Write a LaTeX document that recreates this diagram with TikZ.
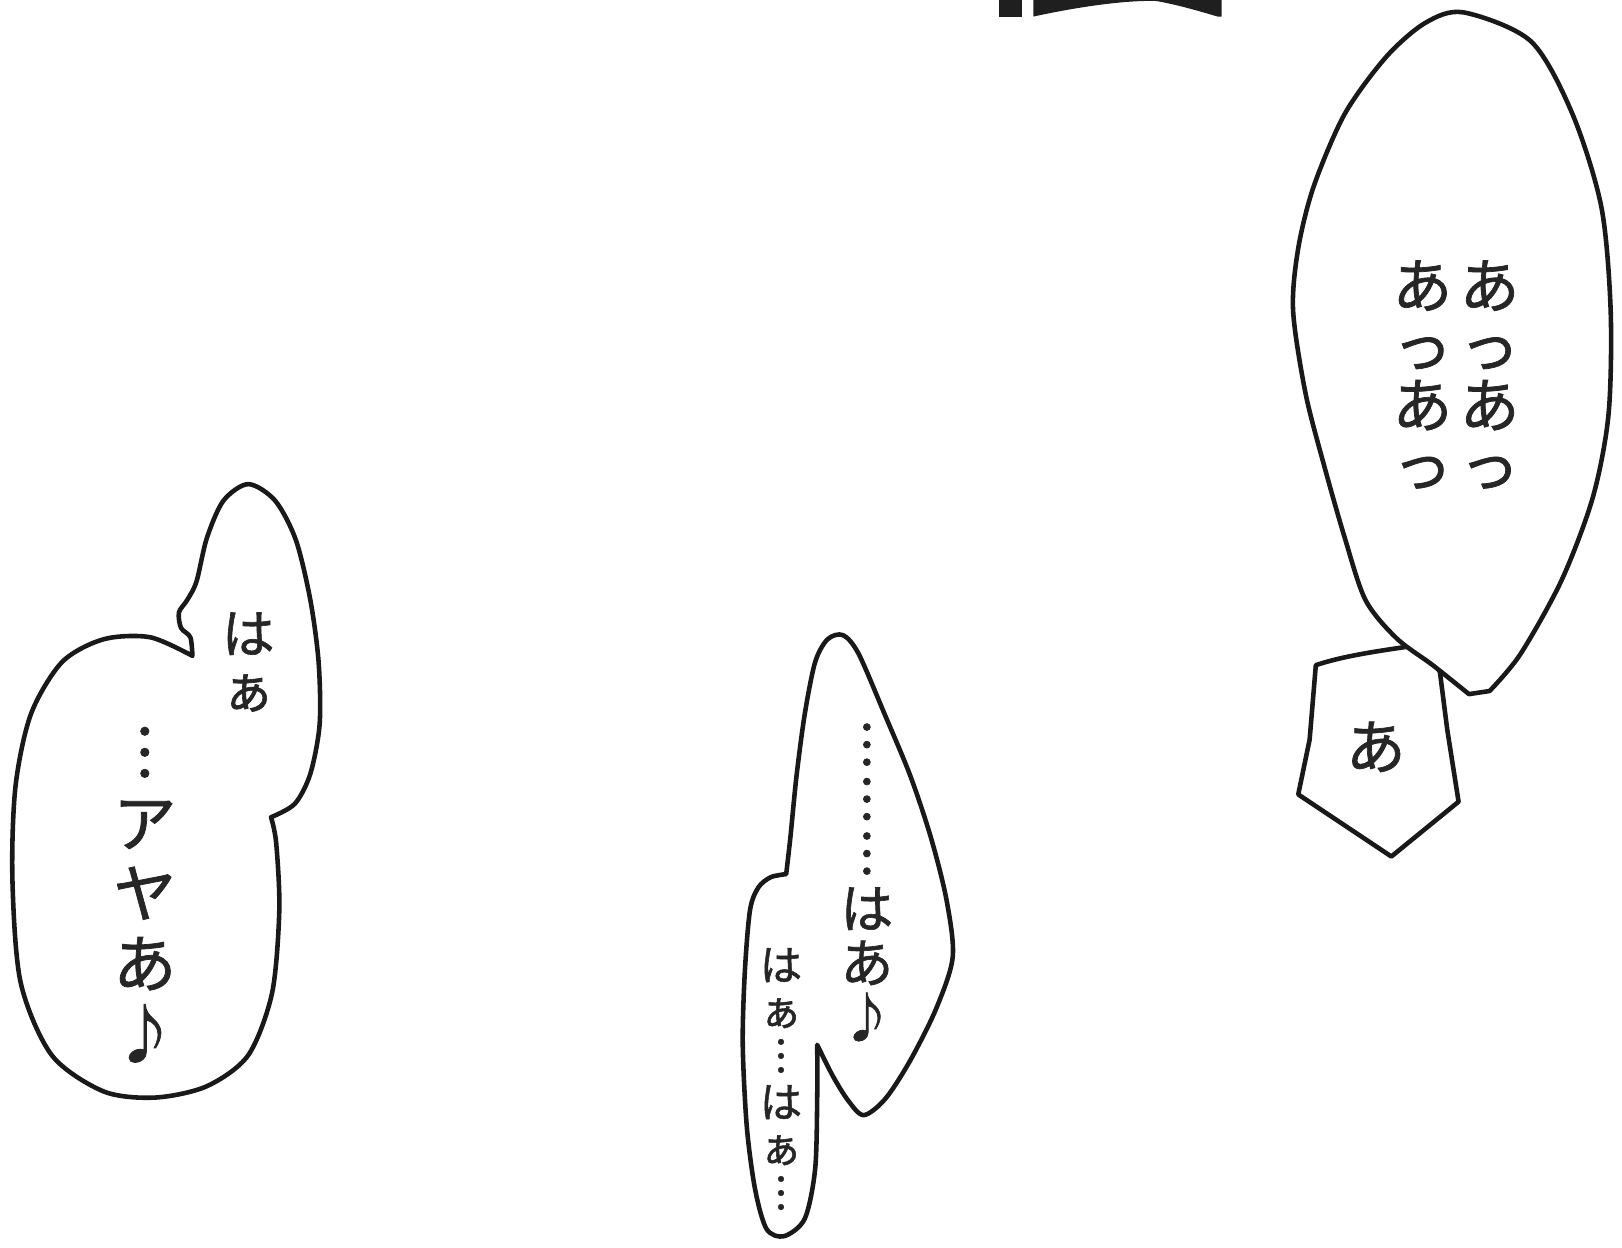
\documentclass[tikz,border=0pt]{standalone}
\usepackage{fontspec}
\newfontfamily\jp[FakeBold=1.2]{Noto Sans CJK JP}

\begin{document}
\begin{tikzpicture}
  [x=0.010344cm,y=-0.010344cm,
   bubble/.style={draw=black!90, line width=1.3pt, fill=white, line join=round},
   every node/.style={align=center, inner sep=0pt, text=black!85}]
  \useasboundingbox (0,0) rectangle (1568,1206);

  % bottom of a big black letter at the top edge
  \fill[black!88] (966,0) rectangle (988,16);
  \fill[black!88] (999,0) -- (999,16) .. controls (1045,6) and (1090,0) .. (1118,1)
    .. controls (1140,5) and (1160,11) .. (1177,16) -- (1181,16) -- (1181,0) -- cycle;

  % right: small pentagon under the big balloon
  \draw[bubble] (1272,643) .. controls (1305,632) and (1345,628) .. (1380,622)
    -- (1392,650) -- (1399,705) -- (1410,775) -- (1345,828) -- (1255,768) -- (1266,715) -- cycle;
  \draw[bubble] plot[smooth] coordinates {(1440,668) (1470,632) (1510,560) (1540,480)
    (1555,400) (1557,300) (1548,200) (1520,110) (1480,40) (1415,12) (1378,22) (1340,55)
    (1300,110) (1270,180) (1255,240) (1250,300) (1262,380) (1280,450) (1300,520)
    (1320,580) (1350,617) (1385,643) (1420,671)} -- cycle;

  % left balloon
  \draw[bubble] plot[smooth] coordinates {(186,634) (145,616) (100,618) (60,640) (30,690)
    (15,760) (12,850) (20,950) (50,1020) (100,1055) (150,1061) (200,1050) (240,1020)
    (263,960) (270,880) (267,815) (262,790)}
    -- plot[smooth] coordinates {(262,790) (285,777) (300,748) (309,700) (308,640)
    (300,580) (286,522) (266,484) (240,468) (216,484) (200,520) (190,562) (181,580)
    (173,592) (175,607) (184,616) (186,634)} -- cycle;

  % middle balloon
  \draw[bubble] plot[smooth] coordinates {(790,1010) (805,1040) (820,1064) (835,1078)
    (856,1062) (880,1025) (905,975) (921,925) (915,870) (900,810) (880,750) (855,690)
    (830,632) (815,614) (800,618) (788,640) (778,690) (770,750) (764,810) (760,845)}
    -- plot[smooth] coordinates {(760,845) (745,848) (733,858) (725,880) (720,940)
    (718,1010) (722,1090) (730,1150) (741,1188) (758,1195) (778,1178) (788,1130)
    (790,1060) (790,1010)} -- cycle;

  % texts
  \node[font=\jp\fontsize{17}{17}\selectfont] (aaR) at (1440,362) {あ\\っ\\あ\\っ};
  \node[font=\jp\fontsize{17}{17}\selectfont] (aaL) at (1375,362) {あ\\っ\\あ\\っ};
  \node[font=\jp\fontsize{17}{17}\selectfont] (a) at (1330,722) {あ};
  \node[font=\jp\fontsize{15}{16}\selectfont] (haL) at (240,640) {は\\ぁ};
  \node[font=\jp\fontsize{18}{20}\selectfont] (ayaL) at (140,865) {︙\\ア\\ヤ\\あ\\♪};
  \node[font=\jp\fontsize{15}{15.5}\selectfont] (haM) at (838,853) {︙\\︙\\︙\\は\\あ\\♪};
  \node[font=\jp\fontsize{12}{13}\selectfont] (hahaM) at (755,1043) {は\\ぁ\\︙\\は\\ぁ\\︙};
\end{tikzpicture}
\end{document}
